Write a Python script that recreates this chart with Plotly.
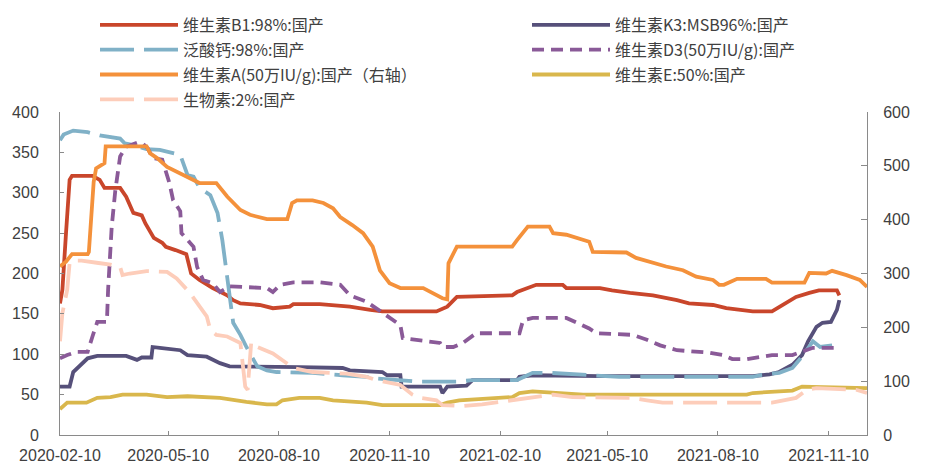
import plotly.graph_objects as go

# ---------------- data ----------------
b1_dates = ["2020-02-10","2020-02-12","2020-02-15","2020-02-18","2020-02-20","2020-03-08","2020-03-14","2020-03-18","2020-03-31","2020-04-05","2020-04-11","2020-04-18","2020-04-21","2020-04-28","2020-05-05","2020-05-08","2020-05-16","2020-05-25","2020-05-29","2020-06-05","2020-06-16","2020-06-28","2020-07-03","2020-07-09","2020-07-25","2020-08-05","2020-08-19","2020-08-22","2020-09-13","2020-10-08","2020-10-25","2020-11-04","2020-12-19","2020-12-28","2021-01-05","2021-02-20","2021-02-24","2021-03-12","2021-04-03","2021-04-06","2021-05-04","2021-05-14","2021-05-29","2021-06-17","2021-07-07","2021-07-17","2021-08-06","2021-08-17","2021-09-08","2021-09-24","2021-10-03","2021-10-14","2021-10-25","2021-11-02","2021-11-17","2021-11-19"]
b1_vals = [163,180,250,316,321,321,316,306,306,295,275,272,262,244,238,233,229,224,200,192,182,173,167,163,161,157,159,162,162,159,155,153,153,159,171,173,177,186,186,182,182,179,176,173,167,163,161,157,153,153,161,171,176,179,179,173]

k3_dates = ["2020-02-10","2020-02-18","2020-02-21","2020-02-27","2020-03-04","2020-03-12","2020-04-05","2020-04-14","2020-04-18","2020-04-26","2020-04-27","2020-05-03","2020-05-20","2020-05-26","2020-06-11","2020-06-22","2020-06-30","2020-08-27","2020-10-02","2020-10-08","2020-11-04","2020-11-08","2020-11-19","2020-11-20","2020-12-22","2020-12-24","2020-12-28","2021-01-13","2021-01-18","2021-02-24","2021-02-26","2021-03-09","2021-05-04","2021-09-08","2021-09-22","2021-09-30","2021-10-11","2021-10-19","2021-10-24","2021-10-31","2021-11-05","2021-11-12","2021-11-17","2021-11-19"]
k3_vals = [60,60,78,87,95,98,98,93,96,96,109,108,105,99,97,89,85,84,83,80,78,74,74,60,60,52,60,61,68,68,72,74,73,73,75,78,87,99,116,134,139,140,155,167]

pan_dates = ["2020-02-10","2020-02-13","2020-02-21","2020-03-04","2020-03-14","2020-03-25","2020-03-31","2020-04-04","2020-04-11","2020-04-22","2020-05-03","2020-05-20","2020-05-26","2020-05-31","2020-06-05","2020-06-14","2020-06-20","2020-06-24","2020-06-28","2020-06-30","2020-07-03","2020-07-09","2020-07-14","2020-07-23","2020-07-31","2020-08-08","2020-09-07","2020-10-02","2020-10-22","2020-10-30","2020-11-19","2020-12-05","2021-01-05","2021-01-18","2021-02-24","2021-03-09","2021-03-23","2021-04-25","2021-05-20","2021-09-08","2021-09-14","2021-09-30","2021-10-11","2021-10-19","2021-10-25","2021-10-28","2021-11-03","2021-11-13"]
pan_vals = [365,372,377,375,371,369,367,361,359,354,353,347,322,320,306,297,275,241,196,167,139,124,109,85,80,78,77,74,72,70,68,66,66,68,68,77,77,74,72,72,74,77,83,97,109,116,109,111]

d3_dates = ["2020-02-10","2020-02-16","2020-02-24","2020-03-04","2020-03-08","2020-03-12","2020-03-20","2020-03-21","2020-03-24","2020-03-27","2020-03-31","2020-04-05","2020-04-14","2020-04-18","2020-04-23","2020-04-27","2020-05-05","2020-05-11","2020-05-14","2020-05-20","2020-05-21","2020-05-26","2020-05-31","2020-06-03","2020-06-08","2020-06-16","2020-06-22","2020-06-30","2020-07-31","2020-08-05","2020-08-11","2020-08-22","2020-09-13","2020-09-30","2020-10-08","2020-10-22","2020-11-04","2020-11-19","2020-11-21","2020-12-11","2020-12-22","2020-12-24","2021-01-02","2021-01-10","2021-01-16","2021-01-21","2021-02-26","2021-03-01","2021-03-09","2021-04-06","2021-04-15","2021-04-25","2021-05-01","2021-05-31","2021-06-12","2021-06-23","2021-07-07","2021-08-03","2021-08-14","2021-08-22","2021-09-03","2021-09-14","2021-09-24","2021-10-11","2021-10-19","2021-10-28","2021-11-19"]
d3_vals = [95,99,103,103,122,140,140,180,258,303,345,357,362,362,355,343,341,312,291,277,250,241,233,208,192,188,177,184,182,177,186,189,189,186,173,165,151,136,120,116,114,109,109,114,120,126,126,142,145,145,139,132,126,124,118,111,105,102,99,94,94,97,99,99,103,108,108]

va_dates = ["2020-02-10","2020-02-15","2020-02-20","2020-03-04","2020-03-05","2020-03-09","2020-03-11","2020-03-14","2020-03-18","2020-03-19","2020-04-22","2020-04-25","2020-05-01","2020-05-09","2020-05-17","2020-05-28","2020-06-05","2020-06-19","2020-06-28","2020-07-09","2020-07-17","2020-07-31","2020-08-17","2020-08-21","2020-08-25","2020-09-07","2020-09-16","2020-09-24","2020-09-30","2020-10-10","2020-10-19","2020-10-27","2020-11-02","2020-11-10","2020-11-19","2020-12-08","2020-12-16","2020-12-24","2020-12-28","2020-12-29","2021-01-05","2021-02-20","2021-02-24","2021-03-05","2021-03-23","2021-03-26","2021-04-06","2021-04-25","2021-04-28","2021-05-26","2021-06-03","2021-06-14","2021-06-28","2021-07-12","2021-07-23","2021-08-06","2021-08-11","2021-08-15","2021-08-26","2021-09-19","2021-09-24","2021-10-21","2021-10-25","2021-11-08","2021-11-13","2021-11-25","2021-12-06","2021-12-12"]
va_vals = [313,322,336,336,340,470,495,500,505,536,536,523,514,498,489,477,468,468,443,418,409,401,401,431,436,436,431,421,405,390,375,350,306,282,273,273,264,254,252,319,350,350,362,387,387,375,372,359,340,339,329,322,313,306,294,288,279,279,290,290,283,283,301,300,305,297,288,275]

ve_dates = ["2020-02-10","2020-02-16","2020-03-03","2020-03-12","2020-03-23","2020-04-02","2020-04-22","2020-05-09","2020-05-26","2020-06-22","2020-07-14","2020-07-31","2020-08-08","2020-08-13","2020-08-27","2020-09-13","2020-09-24","2020-10-22","2020-11-04","2020-12-22","2020-12-28","2021-01-07","2021-02-20","2021-02-26","2021-03-09","2021-03-26","2021-04-20","2021-09-03","2021-09-08","2021-09-30","2021-10-11","2021-10-19","2021-12-12"]
ve_vals = [32,40,40,46,47,50,50,47,48,46,41,38,38,43,46,46,43,40,37,37,40,43,47,52,54,52,50,50,52,54,55,60,58]

bio_dates = ["2020-02-10","2020-02-12","2020-02-16","2020-02-18","2020-02-21","2020-02-28","2020-03-13","2020-03-23","2020-03-31","2020-04-02","2020-04-08","2020-04-22","2020-05-09","2020-05-17","2020-05-28","2020-06-05","2020-06-11","2020-06-14","2020-06-19","2020-06-28","2020-07-09","2020-07-13","2020-07-15","2020-07-18","2020-07-23","2020-08-05","2020-08-13","2020-08-22","2020-09-07","2020-10-05","2020-10-22","2020-10-30","2020-11-19","2020-11-29","2020-12-05","2020-12-19","2020-12-24","2021-01-10","2021-01-26","2021-02-10","2021-03-07","2021-03-26","2021-04-11","2021-05-31","2021-06-12","2021-06-25","2021-09-24","2021-10-14","2021-10-23","2021-10-31","2021-12-03","2021-12-12"]
bio_vals = [116,151,180,213,216,216,213,211,208,198,200,203,202,194,176,159,147,130,124,122,114,60,56,115,109,101,93,83,78,76,72,68,62,50,46,43,37,36,38,41,47,50,47,46,43,40,40,46,56,58,56,52]

tick_dates = ["2020-02-10","2020-05-10","2020-08-10","2020-11-10","2021-02-10","2021-05-10","2021-08-10","2021-11-10"]

# ---------------- figure ----------------
CJK = "Noto Sans CJK SC"
fig = go.Figure()

def add(name, x, y, color, dash="solid", yaxis="y", legend="legend"):
    fig.add_trace(go.Scatter(
        x=x, y=y, name=name, mode="lines", yaxis=yaxis,
        line=dict(color=color, width=3.8, dash=dash),
        legend=legend, legendgroup=name,
        hoverinfo="x+y+name"))

add("维生素B1:98%:国产", b1_dates, b1_vals, "#C9462B", legend="legend")
add("维生素K3:MSB96%:国产", k3_dates, k3_vals, "#56507A", legend="legend2")
add("泛酸钙:98%:国产", pan_dates, pan_vals, "#80B1C7", dash="34px,10px", legend="legend")
add("维生素D3(50万IU/g):国产", d3_dates, d3_vals, "#8A5A98", dash="12px,7px", legend="legend2")
add("维生素A(50万IU/g):国产（右轴）", va_dates, va_vals, "#F4913B", yaxis="y2", legend="legend")
add("维生素E:50%:国产", ve_dates, ve_vals, "#D9B74C", legend="legend2")
add("生物素:2%:国产", bio_dates, bio_vals, "#FDCDBA", dash="34px,10px", legend="legend")

axis_col = "#8A8A8A"
tickfont = dict(family="Liberation Sans, Arial, sans-serif", size=16, color="#404040")
legfont = dict(family=CJK, size=16, color="#404040")

L, R, T, B = 60, 58, 112, 31
W, H = 925, 466
pw, ph = W - L - R, H - T - B

fig.update_layout(
    width=W, height=H,
    margin=dict(l=L, r=R, t=T, b=B, autoexpand=False),
    plot_bgcolor="white", paper_bgcolor="white",
    showlegend=True,
    xaxis=dict(type="date", range=["2020-02-10", "2021-12-12"],
               tickvals=tick_dates, ticktext=tick_dates,
               showgrid=False, zeroline=False,
               showline=True, linecolor=axis_col, linewidth=1,
               ticks="inside", ticklen=4, tickcolor=axis_col,
               ticklabelstandoff=6, tickfont=tickfont),
    yaxis=dict(range=[0, 400], dtick=50, showgrid=False, zeroline=False,
               showline=True, linecolor=axis_col, linewidth=1,
               ticks="inside", ticklen=4, tickcolor=axis_col,
               ticklabelstandoff=17, tickfont=tickfont),
    yaxis2=dict(range=[0, 600], dtick=100, overlaying="y", side="right",
                showgrid=False, zeroline=False,
                showline=True, linecolor=axis_col, linewidth=1,
                ticks="inside", ticklen=6, tickcolor=axis_col,
                ticklabelstandoff=12, tickfont=tickfont),
    legend=dict(x=(95 - L) / pw, y=1 + (T - 8) / ph, xref="paper", yref="paper",
                xanchor="left", yanchor="top",
                orientation="v", tracegroupgap=1, itemwidth=78, font=legfont,
                bgcolor="rgba(0,0,0,0)", traceorder="grouped"),
    legend2=dict(x=(527 - L) / pw, y=1 + (T - 8) / ph, xref="paper", yref="paper",
                 xanchor="left", yanchor="top",
                 orientation="v", tracegroupgap=1, itemwidth=78, font=legfont,
                 bgcolor="rgba(0,0,0,0)", traceorder="grouped"),
)

fig.write_html("out.html",
               config={"displayModeBar": False},
               post_script="document.body.style.margin='0';document.body.style.padding='0';")
